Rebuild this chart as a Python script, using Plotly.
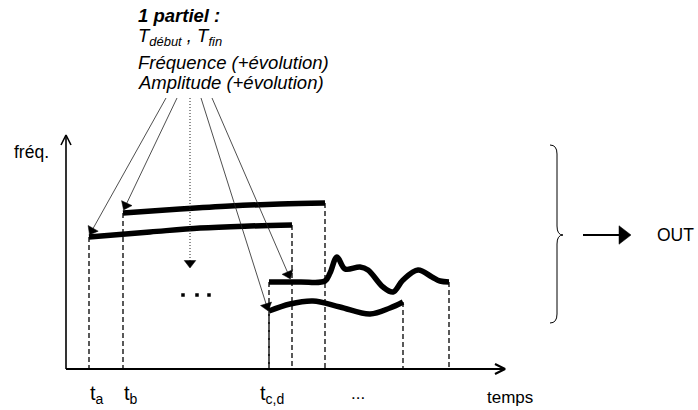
import math
import plotly.graph_objects as go

# ---- data (time / frequency units of the diagram) ----
partial_a_t = [23, 84, 134, 184, 226]
partial_a_f = [132, 137, 141, 143, 144]
partial_b_t = [57, 114, 164, 214, 259]
partial_b_f = [156, 160, 163, 165, 166]
partial_c_t = [203, 234, 259, 264, 271, 279, 294, 302, 317, 327, 337, 352, 366, 374, 383]
partial_c_f = [87, 87, 88, 96, 112, 100, 102, 99, 82, 77, 89, 99, 92, 88, 87]
partial_d_t = [203, 224, 247, 274, 304, 324, 337]
partial_d_f = [58, 65, 68, 62, 55, 61, 67]

partials = [(partial_a_t, partial_a_f), (partial_b_t, partial_b_f),
            (partial_c_t, partial_c_f), (partial_d_t, partial_d_f)]

tick_labels = ["t<sub>a</sub>", "t<sub>b</sub>", "t<sub>c,d</sub>", "..."]
tick_times = [22, 56, 192, 292]

info_lines = ["1 partiel :", "T<sub>début</sub> , T<sub>fin</sub>",
              "Fréquence (+évolution)", "Amplitude (+évolution)"]

FONT = "Liberation Sans, Arial, sans-serif"

fig = go.Figure()


def line(x, y, width=1.0, color="black", dash="solid", shape="linear"):
    fig.add_trace(go.Scatter(x=x, y=y, mode="lines",
                             line=dict(color=color, width=width, dash=dash, shape=shape,
                                       smoothing=1.0 if shape == "spline" else None),
                             hoverinfo="skip", showlegend=False))


def arrow(tail, head, width=0.8, color="#222", size=10, dash="solid", back=4):
    dx, dy = head[0] - tail[0], head[1] - tail[1]
    n = math.hypot(dx, dy)
    px, py = head[0] - dx / n * back, head[1] - dy / n * back
    fig.add_trace(go.Scatter(x=[tail[0], px], y=[tail[1], py], mode="lines",
                             line=dict(color=color, width=width, dash=dash),
                             hoverinfo="skip", showlegend=False))
    fig.add_trace(go.Scatter(x=[tail[0], px], y=[tail[1], py], mode="markers",
                             marker=dict(symbol="triangle-up", size=[0, size], color="#000000",
                                         opacity=1, angleref="previous",
                                         line=dict(width=0.5, color="#000000")),
                             hoverinfo="skip", showlegend=False))


# axes
line([0, 0], [0, 233], width=1.6)
line([-5, 0, 5], [224, 234, 224], width=1.6)
line([0, 438], [0, 0], width=1.8)
line([429, 439, 429], [5, 0, -5], width=2.2)

# dashed vertical markers from partial ends down to the time axis
for t, f in partials:
    for i in (0, -1):
        line([t[i], t[i]], [f[i], 0], width=1.3, dash="5px,3px")

# thick partial tracks
for t, f in partials:
    line(t, f, width=5.5, shape="spline")

# thin arrows from the description to the partials
arrow((100, 271), (24, 135))
arrow((111, 271), (58, 160))
arrow((124, 271), (124, 102), dash="1px,2px", width=1)
arrow((135, 271), (202, 59))
arrow((146, 271), (224, 91))

# OUT arrow
arrow((517, 134), (563, 134), width=2, color="black", size=16, back=6)

# ellipsis dots
fig.add_trace(go.Scatter(x=[117, 131, 143], y=[74, 74, 74], mode="markers",
                         marker=dict(symbol="square", size=3.5, color="black"),
                         hoverinfo="skip", showlegend=False))


def txt(x, y, s, size, xanchor="center", weight="normal", style="normal"):
    return dict(x=x, y=y, xref="x", yref="y", text=s, showarrow=False,
                xanchor=xanchor, yanchor="middle",
                font=dict(family=FONT, size=size, color="black", weight=weight, style=style))


ann = [txt(-35, 217, "fréq.", 17.5),
       txt(444, -28, "temps", 17),
       txt(589, 134, "OUT", 17.5, xanchor="left")]
for lab, t in zip(tick_labels, tick_times):
    if lab == "...":
        ann.append(txt(t, -24, lab, 17))
    else:
        ann.append(txt(t, -25, lab, 20, xanchor="left"))

info_y = [354, 332, 307, 287]
for i, (s, y) in enumerate(zip(info_lines, info_y)):
    ann.append(txt(70, y, s, 18.5, xanchor="left",
                   weight="bold" if i == 0 else "normal", style="italic"))

shapes = [dict(type="path", xref="x", yref="y",
               path="M 484,224 Q 491,224 491,215 L 491,143 Q 491,134 497,134 "
                    "Q 491,134 491,125 L 491,55 Q 491,46 484,46",
               line=dict(color="black", width=1))]

fig.update_layout(
    width=698, height=410, margin=dict(l=0, r=0, t=0, b=0),
    paper_bgcolor="white", plot_bgcolor="white",
    xaxis=dict(range=[-66, 632], visible=False, fixedrange=True),
    yaxis=dict(range=[-41, 369], visible=False, fixedrange=True),
    annotations=ann, shapes=shapes, showlegend=False,
)

fig.write_html("out.html", post_script="document.body.style.margin='0';",
               config={"displayModeBar": False})
